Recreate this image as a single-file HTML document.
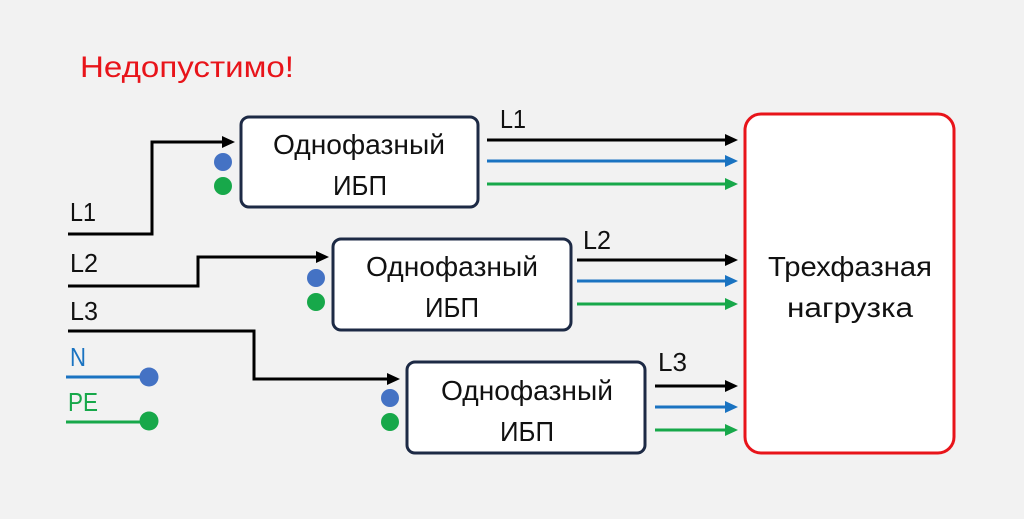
<!DOCTYPE html>
<html><head><meta charset="utf-8"><style>
html,body{margin:0;padding:0;background:#f2f2f2;}
svg{display:block;}
text{font-family:"Liberation Sans","DejaVu Sans",sans-serif;}
</style></head><body>
<svg width="1024" height="519" viewBox="0 0 1024 519" xmlns="http://www.w3.org/2000/svg">
<defs>
<marker id="ak" markerWidth="13" markerHeight="12" refX="10" refY="6" orient="auto" markerUnits="userSpaceOnUse"><path d="M0,0 L13,6 L0,12 z" fill="#000"/></marker>
<marker id="ab" markerWidth="13" markerHeight="12" refX="10" refY="6" orient="auto" markerUnits="userSpaceOnUse"><path d="M0,0 L13,6 L0,12 z" fill="#1a73c1"/></marker>
<marker id="ag" markerWidth="13" markerHeight="12" refX="10" refY="6" orient="auto" markerUnits="userSpaceOnUse"><path d="M0,0 L13,6 L0,12 z" fill="#17a84a"/></marker>
</defs>
<rect width="1024" height="519" fill="#f2f2f2"/>
<text x="80" y="77" font-size="30" fill="#e8141a" textLength="214" lengthAdjust="spacingAndGlyphs">Недопустимо!</text>

<rect x="241" y="117" width="237" height="90" rx="8" fill="#fff" stroke="#1d2a45" stroke-width="3"/>
<rect x="333" y="239" width="238" height="91" rx="8" fill="#fff" stroke="#1d2a45" stroke-width="3"/>
<rect x="407" y="362" width="238" height="91" rx="8" fill="#fff" stroke="#1d2a45" stroke-width="3"/>
<rect x="745" y="114" width="209" height="339" rx="16" fill="#fff" stroke="#e8141a" stroke-width="3"/>

<g font-size="28" fill="#111" lengthAdjust="spacingAndGlyphs">
<text x="273" y="154" textLength="172" lengthAdjust="spacingAndGlyphs">Однофазный</text><text x="333" y="195" textLength="54" lengthAdjust="spacingAndGlyphs">ИБП</text>
<text x="366" y="276" textLength="172" lengthAdjust="spacingAndGlyphs">Однофазный</text><text x="425" y="317" textLength="54" lengthAdjust="spacingAndGlyphs">ИБП</text>
<text x="441" y="400" textLength="172" lengthAdjust="spacingAndGlyphs">Однофазный</text><text x="500" y="441" textLength="54" lengthAdjust="spacingAndGlyphs">ИБП</text>
<text x="768" y="276" textLength="164" lengthAdjust="spacingAndGlyphs">Трехфазная</text><text x="787" y="317" textLength="126" lengthAdjust="spacingAndGlyphs">нагрузка</text>
</g>

<g stroke-width="3" fill="none">
<line x1="487" y1="140" x2="735" y2="140" stroke="#000" marker-end="url(#ak)"/>
<line x1="487" y1="161" x2="735" y2="161" stroke="#1a73c1" marker-end="url(#ab)"/>
<line x1="487" y1="184" x2="735" y2="184" stroke="#17a84a" marker-end="url(#ag)"/>
<line x1="577" y1="260" x2="735" y2="260" stroke="#000" marker-end="url(#ak)"/>
<line x1="577" y1="281" x2="735" y2="281" stroke="#1a73c1" marker-end="url(#ab)"/>
<line x1="577" y1="304" x2="735" y2="304" stroke="#17a84a" marker-end="url(#ag)"/>
<line x1="655" y1="386" x2="735" y2="386" stroke="#000" marker-end="url(#ak)"/>
<line x1="655" y1="407" x2="735" y2="407" stroke="#1a73c1" marker-end="url(#ab)"/>
<line x1="655" y1="430" x2="735" y2="430" stroke="#17a84a" marker-end="url(#ag)"/>
<polyline points="68,234 152,234 152,142 232,142" stroke="#000" marker-end="url(#ak)"/>
<polyline points="68,286 198,286 198,257 326,257" stroke="#000" marker-end="url(#ak)"/>
<polyline points="68,331 254,331 254,379 397,379" stroke="#000" marker-end="url(#ak)"/>
<line x1="66" y1="377" x2="148" y2="377" stroke="#1a73c1"/>
<line x1="66" y1="422" x2="148" y2="422" stroke="#17a84a"/>
</g>
<g>
<circle cx="223" cy="162" r="9" fill="#4472c4"/><circle cx="223" cy="186" r="9" fill="#17a84a"/>
<circle cx="316" cy="278" r="9" fill="#4472c4"/><circle cx="316" cy="302" r="9" fill="#17a84a"/>
<circle cx="390" cy="398" r="9" fill="#4472c4"/><circle cx="390" cy="422" r="9" fill="#17a84a"/>
<circle cx="149" cy="377" r="9.5" fill="#4472c4"/><circle cx="149" cy="421" r="9.5" fill="#17a84a"/>
</g>
<g font-size="26">
<text x="70" y="221" fill="#111" textLength="26" lengthAdjust="spacingAndGlyphs">L1</text>
<text x="70" y="272" fill="#111" textLength="28" lengthAdjust="spacingAndGlyphs">L2</text>
<text x="70" y="320" fill="#111" textLength="28" lengthAdjust="spacingAndGlyphs">L3</text>
<text x="70" y="366" fill="#1a73c1" textLength="16" lengthAdjust="spacingAndGlyphs">N</text>
<text x="68" y="411" fill="#17a84a" textLength="30" lengthAdjust="spacingAndGlyphs">PE</text>
<text x="500" y="128" fill="#111" textLength="26" lengthAdjust="spacingAndGlyphs">L1</text>
<text x="583" y="249" fill="#111" textLength="28" lengthAdjust="spacingAndGlyphs">L2</text>
<text x="658" y="371" fill="#111" textLength="29" lengthAdjust="spacingAndGlyphs">L3</text>
</g>
</svg>
</body></html>
